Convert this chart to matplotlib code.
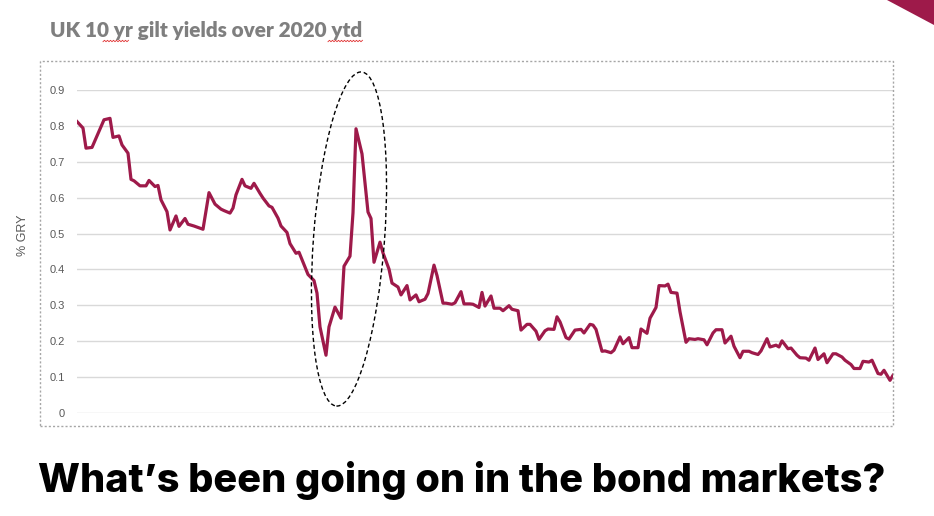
import numpy as np
import matplotlib
matplotlib.use('Agg')
import matplotlib.pyplot as plt
from matplotlib.patches import Ellipse, Rectangle, Polygon

# day of year 2020 and 10y gilt yield (% GRY)
day = [2, 4, 5, 7, 11, 13, 14, 16, 17, 19, 20, 21, 23, 25, 26, 28, 29, 30,
       32, 33, 35, 36, 38, 39, 41, 44, 46, 48, 50, 51, 53, 54, 55, 57, 58,
       60, 61, 63, 64, 66, 67, 69, 70, 72, 73, 75, 76, 78, 79, 81, 82, 83,
       85, 86, 88, 90, 91, 93, 94, 95, 97, 99, 100, 101, 103, 104, 106, 107,
       109, 110, 112, 113, 115, 116, 118, 119, 121, 122, 124, 125, 127, 128,
       130, 131, 133, 134, 136, 137, 138, 140, 141, 143, 144, 146, 147, 149,
       150, 152, 153, 155, 156, 158, 159, 161, 162, 163, 165, 166, 168, 170,
       171, 173, 174, 175, 177, 178, 180, 181, 183, 184, 186, 187, 189, 190,
       192, 193, 195, 196, 198, 199, 200, 202, 203, 205, 206, 208, 209, 211,
       212, 214, 215, 217, 218, 220, 221, 223, 224, 226, 227, 229, 230, 232,
       233, 235, 236, 237, 239, 240, 242, 243, 245, 246, 248, 249, 251, 252,
       254, 255, 257, 258, 260, 261, 263, 264, 266, 267, 269, 270, 271, 273,
       274]
gry = [0.812, 0.794, 0.738, 0.740, 0.817, 0.821, 0.768, 0.772, 0.747, 0.724,
       0.651, 0.647, 0.633, 0.633, 0.648, 0.631, 0.634, 0.594, 0.561, 0.510,
       0.549, 0.520, 0.542, 0.526, 0.521, 0.512, 0.614, 0.582, 0.568, 0.564,
       0.557, 0.571, 0.608, 0.651, 0.633, 0.626, 0.640, 0.612, 0.599, 0.577,
       0.573, 0.543, 0.521, 0.503, 0.472, 0.445, 0.448, 0.407, 0.386, 0.369,
       0.334, 0.240, 0.161, 0.240, 0.295, 0.264, 0.409, 0.437, 0.558, 0.792,
       0.722, 0.560, 0.542, 0.420, 0.476, 0.446, 0.401, 0.362, 0.351, 0.329,
       0.355, 0.315, 0.329, 0.310, 0.317, 0.333, 0.412, 0.383, 0.306, 0.306,
       0.303, 0.307, 0.338, 0.304, 0.304, 0.303, 0.294, 0.336, 0.298, 0.326,
       0.292, 0.292, 0.285, 0.299, 0.289, 0.285, 0.231, 0.247, 0.247, 0.228,
       0.205, 0.229, 0.234, 0.233, 0.268, 0.254, 0.210, 0.206, 0.231, 0.233,
       0.223, 0.247, 0.245, 0.233, 0.172, 0.173, 0.168, 0.175, 0.212, 0.193,
       0.210, 0.182, 0.182, 0.234, 0.222, 0.264, 0.294, 0.355, 0.354, 0.359,
       0.336, 0.334, 0.282, 0.197, 0.207, 0.205, 0.207, 0.204, 0.190, 0.223,
       0.232, 0.232, 0.195, 0.214, 0.186, 0.154, 0.172, 0.172, 0.168, 0.163,
       0.173, 0.207, 0.184, 0.189, 0.184, 0.201, 0.179, 0.181, 0.161, 0.154,
       0.153, 0.147, 0.181, 0.149, 0.165, 0.140, 0.165, 0.165, 0.156, 0.147,
       0.135, 0.124, 0.124, 0.144, 0.142, 0.147, 0.110, 0.108, 0.119, 0.091,
       0.105]
yticks = [0, 0.1, 0.2, 0.3, 0.4, 0.5, 0.6, 0.7, 0.8, 0.9]
ytick_labels = ['0', '0.1', '0.2', '0.3', '0.4', '0.5', '0.6', '0.7', '0.8', '0.9']

title = "UK 10 yr gilt yields over 2020 ytd"
headline = "What\u2019s been going on in the bond markets?"
crimson = '#9e1a4a'

W, H = 934, 516
fig = plt.figure(figsize=(W / 100, H / 100), dpi=100)
ax = fig.add_axes([77 / W, 1 - 413 / H, (893 - 77) / W, (413 - 90) / H])

ax.plot(day, gry, color=crimson, lw=2.3, solid_joinstyle='round', zorder=3)
ax.set_xlim(day[0], day[-1])
ax.set_ylim(0, 0.9)
ax.set_yticks(yticks)
ax.set_yticklabels(ytick_labels, color='#595959', fontsize=8, family='Liberation Sans')
ax.tick_params(axis='y', length=0, pad=9)
ax.set_xticks([])
ax.grid(axis='y', color='#d9d9d9', lw=1)
for s in ax.spines.values():
    s.set_visible(False)
ax.set_ylabel('% GRY', color='#595959', fontsize=9, family='Liberation Sans')
ax.yaxis.set_label_coords((29 - 77) / (893 - 77), (413 - 235) / (413 - 90))

# dotted frame round the chart
px = fig.dpi_scale_trans
fig.add_artist(Rectangle((40 / 100, (H - 426) / 100), (893 - 40) / 100, (426 - 61) / 100,
                         transform=px, fill=False, ec='#a6a6a6', lw=1, ls=(0, (1.5, 1.5))))

# dashed ellipse round the spike
fig.add_artist(Ellipse((349 / 100, (H - 239) / 100), 0.71, 3.35, angle=-4.3,
                       transform=px, fill=False, ec='black', lw=1, ls=(0, (3, 2))))

# corner triangle
fig.add_artist(Polygon([(887 / 100, H / 100), (W / 100, H / 100), (W / 100, (H - 25) / 100)],
                       closed=True, transform=px, fc=crimson, ec='none'))


def fit_text(x, y, s, width, size, **kw):
    t = fig.text(x / W, 1 - y / H, s, fontsize=size, **kw)
    r = fig.canvas.get_renderer()
    w = t.get_window_extent(renderer=r).width
    t.set_fontsize(size * width / w)
    return t


fit_text(50, 37.5, title, 312, 13, color='#7f7f7f', fontweight='heavy',
         family='Lato', ha='left', va='baseline')

# spell-check squiggles under "yr" and "ytd"
for x0, x1 in [(103, 128), (328, 363)]:
    xs = np.arange(x0, x1 + 1, 1.5)
    ys = 41 + np.where(np.arange(len(xs)) % 2 == 0, 0.7, -0.7)
    fig.add_artist(plt.Line2D(xs / 100, (H - ys) / 100, transform=px, color='#e03030', lw=0.6))

fit_text(38, 491.7, headline, 849, 30, color='black', fontweight='heavy',
         family='Inter', ha='left', va='baseline')

fig.savefig('out.png', dpi=100)
